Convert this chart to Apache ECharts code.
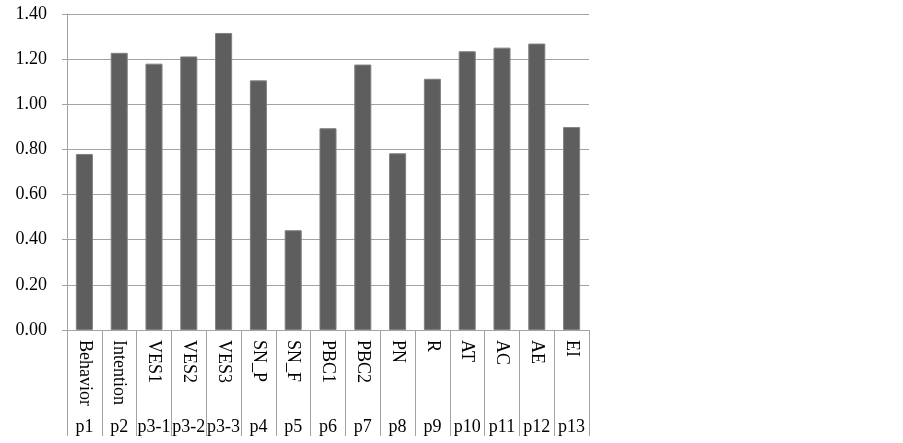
<!DOCTYPE html>
<html>
<head>
<meta charset="utf-8">
<script src="https://cdn.jsdelivr.net/npm/echarts@6/dist/echarts.min.js"></script>
<style>html,body{margin:0;padding:0;background:#fff;}#c{width:903px;height:443px;}</style>
</head>
<body>
<div id="c"></div>
<script>
const categories = ['Behavior','Intention','VES1','VES2','VES3','SN_P','SN_F','PBC1','PBC2','PN','R','AT','AC','AE','EI'];
const codes = ['p1','p2','p3-1','p3-2','p3-3','p4','p5','p6','p7','p8','p9','p10','p11','p12','p13'];
const values = [0.78, 1.228, 1.18, 1.212, 1.316, 1.106, 0.442, 0.894, 1.176, 0.783, 1.113, 1.235, 1.251, 1.269, 0.899];
const yTicks = { min: 0, max: 1.4, interval: 0.2 };

const FONT = '"Liberation Serif", "Times New Roman", serif';
const GRAY = '#a3a3a3';
const chart = echarts.init(document.getElementById('c'), null, { renderer: 'canvas' });
chart.setOption({
  backgroundColor: '#ffffff',
  animation: false,
  grid: { left: 67, right: 314, top: 14, bottom: 113 },
  xAxis: [
    {
      type: 'category',
      data: categories,
      position: 'bottom',
      axisLine: { show: true, lineStyle: { color: GRAY, width: 1 } },
      axisTick: { show: true, length: 106, interval: 0, lineStyle: { color: GRAY, width: 1 } },
      axisLabel: { interval: 0, rotate: -90, margin: 10, color: '#000', fontFamily: FONT, fontSize: 18 },
      splitLine: { show: false }
    },
    {
      type: 'category',
      data: codes,
      position: 'bottom',
      axisLine: { show: false },
      axisTick: { show: false },
      axisLabel: { interval: 0, margin: 88, color: '#000', fontFamily: FONT, fontSize: 18 },
      splitLine: { show: false }
    }
  ],
  yAxis: {
    type: 'value',
    min: yTicks.min, max: yTicks.max, interval: yTicks.interval,
    axisLine: { show: true, lineStyle: { color: GRAY, width: 1 } },
    axisTick: { show: true, length: 5, lineStyle: { color: GRAY, width: 1 } },
    axisLabel: { margin: 20, color: '#000', fontFamily: FONT, fontSize: 18, formatter: v => v.toFixed(2) },
    splitLine: { show: true, lineStyle: { color: GRAY, width: 1 } }
  },
  series: [{
    type: 'bar',
    data: values,
    xAxisIndex: 0,
    barWidth: '49%',
    itemStyle: { color: '#5e5e5e', borderColor: '#808080', borderWidth: 1 }
  }]
});
</script>
</body>
</html>
